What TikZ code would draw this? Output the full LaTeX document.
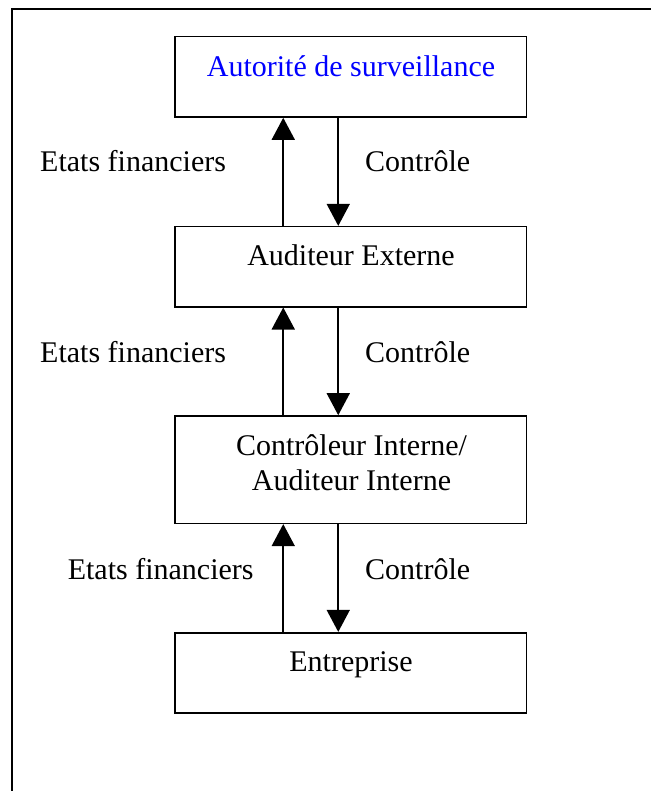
\documentclass[tikz,border=0pt]{standalone}
\usepackage{fontspec}
\setmainfont{Liberation Serif}
\usetikzlibrary{arrows.meta}
\definecolor{txtblue}{RGB}{0,0,255}
\tikzset{
  box/.style={draw=black, line width=1.6pt, rectangle, minimum width=351.5pt, inner sep=0pt},
  txt/.style={font=\fontsize{30}{35}\selectfont, inner sep=0pt, anchor=base},
  lbl/.style={font=\fontsize{30}{35}\selectfont, inner sep=0pt, anchor=base west},
  arr/.style={line width=1.6pt, -{Triangle[length=22pt,width=23pt]}},
  frameline/.style={line width=2pt, line join=miter}
}
\begin{document}
\begin{tikzpicture}[x=1pt,y=-1pt]
\useasboundingbox (0,0) rectangle (651,791);
\coordinate (fb) at (12,791);
\coordinate (fc) at (12,9);
\coordinate (fr) at (651,9);
\draw[frameline] (fb) -- (fc) -- (fr);

\node[box, minimum height=80.3pt] (b1) at (350.75,76.85) {};
\node[box, minimum height=80pt] (b2) at (350.75,266.7) {};
\node[box, minimum height=107.3pt] (b3) at (350.75,469.65) {};
\node[box, minimum height=80.3pt] (b4) at (350.75,672.85) {};

\node[txt, text=txtblue] (t1) at (351,77) {Autorité de surveillance};
\node[txt] (t2) at (351,265.7) {Auditeur Externe};
\node[txt] (t3a) at (351.5,455) {Contrôleur Interne/};
\node[txt] (t3b) at (351.5,490) {Auditeur Interne};
\node[txt] (t4) at (351,671.7) {Entreprise};

\draw[arr] ([xshift=-67.5pt]b2.north) -- ([xshift=-67.5pt]b1.south);
\draw[arr] ([xshift=-12.5pt]b1.south) -- ([xshift=-12.5pt]b2.north);
\draw[arr] ([xshift=-67.5pt]b3.north) -- ([xshift=-67.5pt]b2.south);
\draw[arr] ([xshift=-12.5pt]b2.south) -- ([xshift=-12.5pt]b3.north);
\draw[arr] ([xshift=-67.5pt]b4.north) -- ([xshift=-67.5pt]b3.south);
\draw[arr] ([xshift=-12.5pt]b3.south) -- ([xshift=-12.5pt]b4.north);

\node[lbl] (e1) at (40,172) {Etats financiers};
\node[lbl] (c1) at (365,172) {Contrôle};
\node[lbl] (e2) at (40,362.7) {Etats financiers};
\node[lbl] (c2) at (365,362.7) {Contrôle};
\node[lbl] (e3) at (67.6,579) {Etats financiers};
\node[lbl] (c3) at (365,579) {Contrôle};
\end{tikzpicture}
\end{document}
